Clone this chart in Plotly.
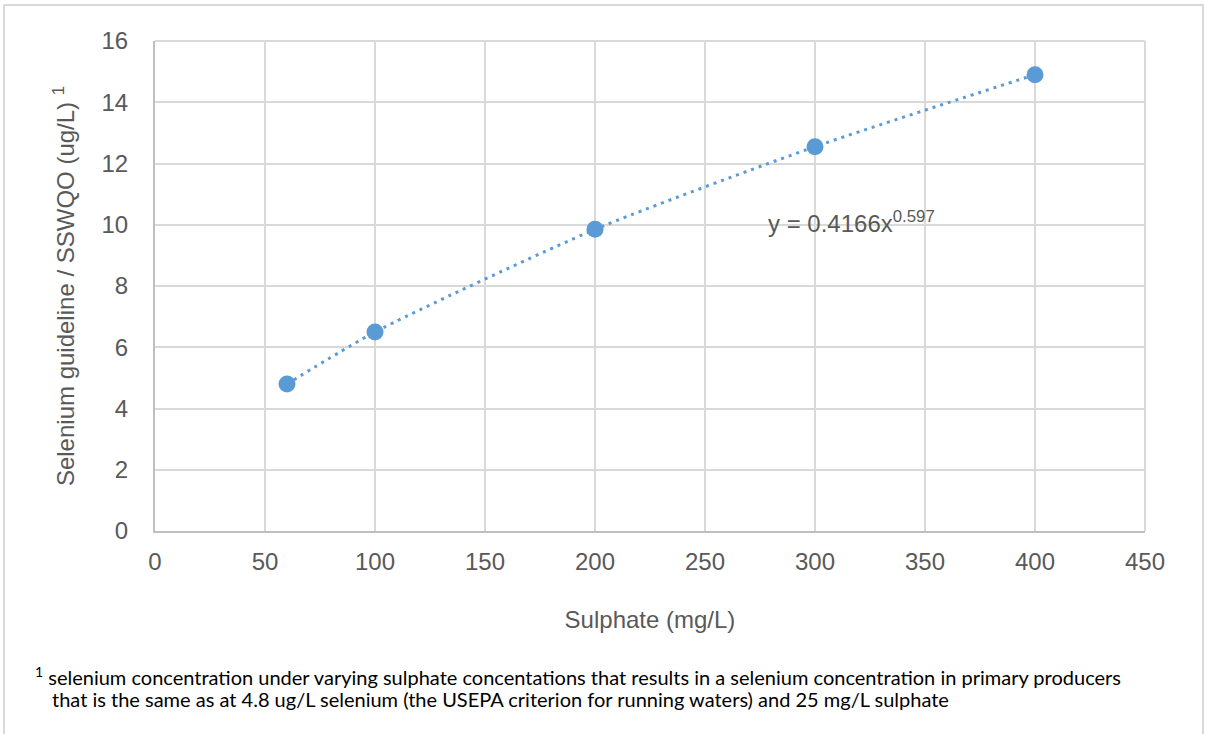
import plotly.graph_objects as go

sulphate = [60, 100, 200, 300, 400]
selenium = [4.8, 6.5, 9.85, 12.55, 14.9]
x_ticks = [0, 50, 100, 150, 200, 250, 300, 350, 400, 450]
y_ticks = [0, 2, 4, 6, 8, 10, 12, 14, 16]
equation_text = "y = 0.4166x<sup>0.597</sup>"
x_title = "Sulphate (mg/L)"
y_title = "Selenium guideline / SSWQO (ug/L) <sup>1</sup>"
footnote_1 = "<sup>1</sup> selenium concentration under varying sulphate concentations that results in a selenium concentration in primary producers"
footnote_2 = "that is the same as at 4.8 ug/L selenium (the USEPA criterion for running waters) and 25 mg/L sulphate"

blue = "#5b9bd5"
tick_col = "#595959"

fig = go.Figure()
fig.add_trace(go.Scatter(
    x=sulphate, y=selenium, mode="lines",
    line=dict(color=blue, width=3, dash="3px,5px", shape="spline", smoothing=0.6),
    hoverinfo="skip", showlegend=False))
fig.add_trace(go.Scatter(
    x=sulphate, y=selenium, mode="markers",
    marker=dict(color=blue, size=17, line=dict(width=0)),
    showlegend=False))

fig.add_annotation(x=277.5, y=10.1, xref="x", yref="y", text=equation_text,
                   showarrow=False, xanchor="left", yanchor="middle",
                   font=dict(family="Liberation Sans, Arial", size=24, color=tick_col))

fig.add_annotation(x=(33 - 155) / 990, y=(531 - 676) / 490, xref="paper", yref="paper",
                   text=footnote_1, showarrow=False, xanchor="left", yanchor="middle",
                   font=dict(family="Lato", size=20, color="#000000"))
fig.add_annotation(x=(50 - 155) / 990, y=(531 - 699) / 490, xref="paper", yref="paper",
                   text=footnote_2, showarrow=False, xanchor="left", yanchor="middle",
                   font=dict(family="Lato", size=20, color="#000000"))

# outer chart border
fig.add_shape(type="rect", xref="paper", yref="paper",
              x0=(4 - 155) / 990, x1=(1203 - 155) / 990,
              y0=(531 - 760) / 490, y1=(531 - 5) / 490,
              line=dict(color="#d9d9d9", width=2), fillcolor="rgba(0,0,0,0)", layer="below")

fig.update_layout(
    width=1206, height=734,
    margin=dict(l=155, r=61, t=41, b=203),
    paper_bgcolor="white", plot_bgcolor="white",
    font=dict(family="Liberation Sans, Arial", size=24, color=tick_col),
    xaxis=dict(range=[0, 450], tickvals=x_ticks, showgrid=True, gridcolor="#d9d9d9", gridwidth=2,
               showline=True, linecolor="#bfbfbf", linewidth=2, zeroline=False,
               ticks="", ticklabelstandoff=8, tickfont=dict(size=24),
               title=dict(text=x_title, standoff=37, font=dict(size=24, color=tick_col))),
    yaxis=dict(range=[0, 16], tickvals=y_ticks, showgrid=True, gridcolor="#d9d9d9", gridwidth=2,
               showline=True, linecolor="#bfbfbf", linewidth=2, zeroline=False,
               ticks="", ticklabelstandoff=20, tickfont=dict(size=24),
               title=dict(text=y_title, standoff=20, font=dict(size=24, color=tick_col))),
)
fig.add_shape(type="line", xref="paper", yref="paper", x0=0, x1=1, y0=1, y1=1,
              line=dict(color="#d9d9d9", width=2), layer="below")
fig.add_shape(type="line", xref="paper", yref="paper", x0=1, x1=1, y0=0, y1=1,
              line=dict(color="#d9d9d9", width=2), layer="below")

fig.write_html("out.html", config={"displayModeBar": False},
               post_script="document.body.style.margin='0';document.body.style.overflow='hidden';")
